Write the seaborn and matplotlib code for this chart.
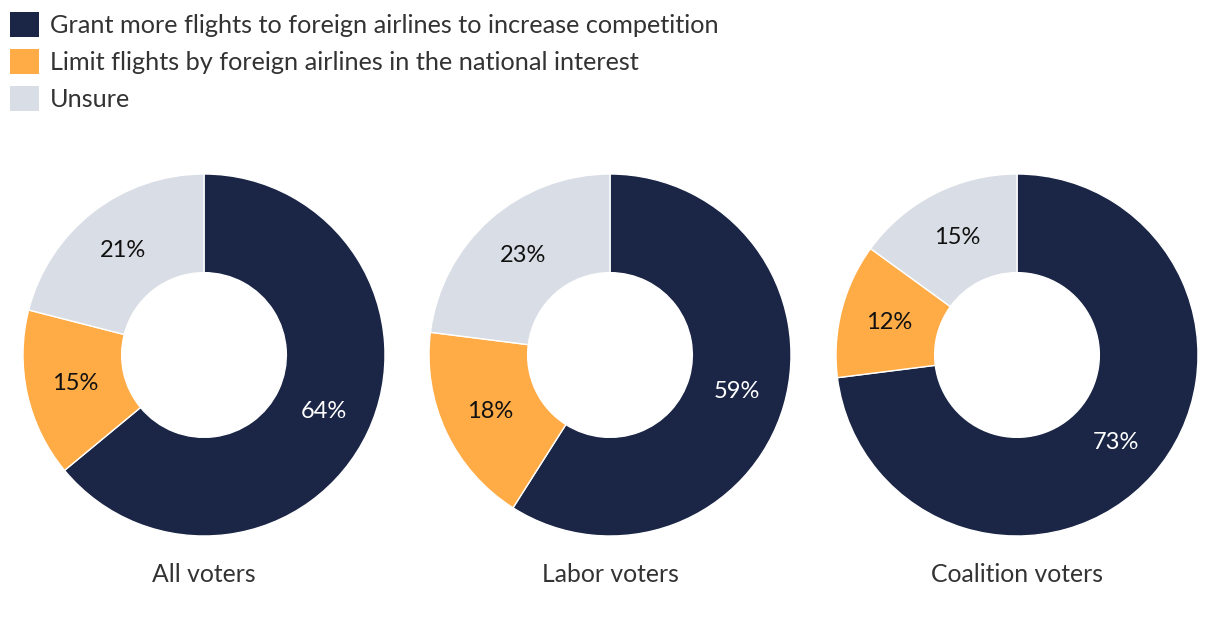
import matplotlib
matplotlib.use("Agg")
import matplotlib.pyplot as plt
import seaborn as sns
from matplotlib.patches import Patch

sns.set_theme(style="white")
plt.rcParams['font.family'] = ['Lato', 'DejaVu Sans']

series = ["Grant more flights to foreign airlines to increase competition",
          "Limit flights by foreign airlines in the national interest",
          "Unsure"]
groups = ["All voters", "Labor voters", "Coalition voters"]
grant = [64, 59, 73]
limit = [15, 18, 12]
unsure = [21, 23, 15]

colors = sns.color_palette(["#1b2646", "#ffab46", "#d9dde5"])
label_colors = ["white", "#111111", "#111111"]

W, H = 1220, 622
fig = plt.figure(figsize=(W / 100, H / 100), dpi=100)

centers_x = [204, 610, 1017]
cy = 355
R = 181
for i, g in enumerate(groups):
    ax = fig.add_axes([(centers_x[i] - R) / W, 1 - (cy + R) / H, 2 * R / W, 2 * R / H])
    vals = [grant[i], limit[i], unsure[i]]
    wedges, texts = ax.pie(vals, colors=colors, startangle=90, counterclock=False,
                           radius=1.0,
                           wedgeprops=dict(width=0.545, edgecolor="white", linewidth=1),
                           labels=[f"{v}%" for v in vals], labeldistance=0.73)
    for t, c in zip(texts, label_colors):
        t.set_color(c)
        t.set_fontsize(17)
        t.set_ha("center")
        t.set_va("center")
    ax.set_xlim(-1, 1)
    ax.set_ylim(-1, 1)
    ax.set_aspect("equal")
    ax.axis("off")
    fig.text(centers_x[i] / W, 1 - 574 / H, g, ha="center", va="center",
             fontsize=17.8, color="#333333")

handles = [Patch(facecolor=c, edgecolor="none") for c in colors]
fig.legend(handles, series, loc="upper left", bbox_to_anchor=(2 / W, 1 - 4 / H),
           frameon=False, fontsize=18.2, handlelength=1.15, handleheight=1.15,
           handletextpad=0.45, labelspacing=0.47, labelcolor="#333333",
           borderaxespad=0, borderpad=0.3)

fig.savefig("out.png", dpi=100, facecolor="white")
